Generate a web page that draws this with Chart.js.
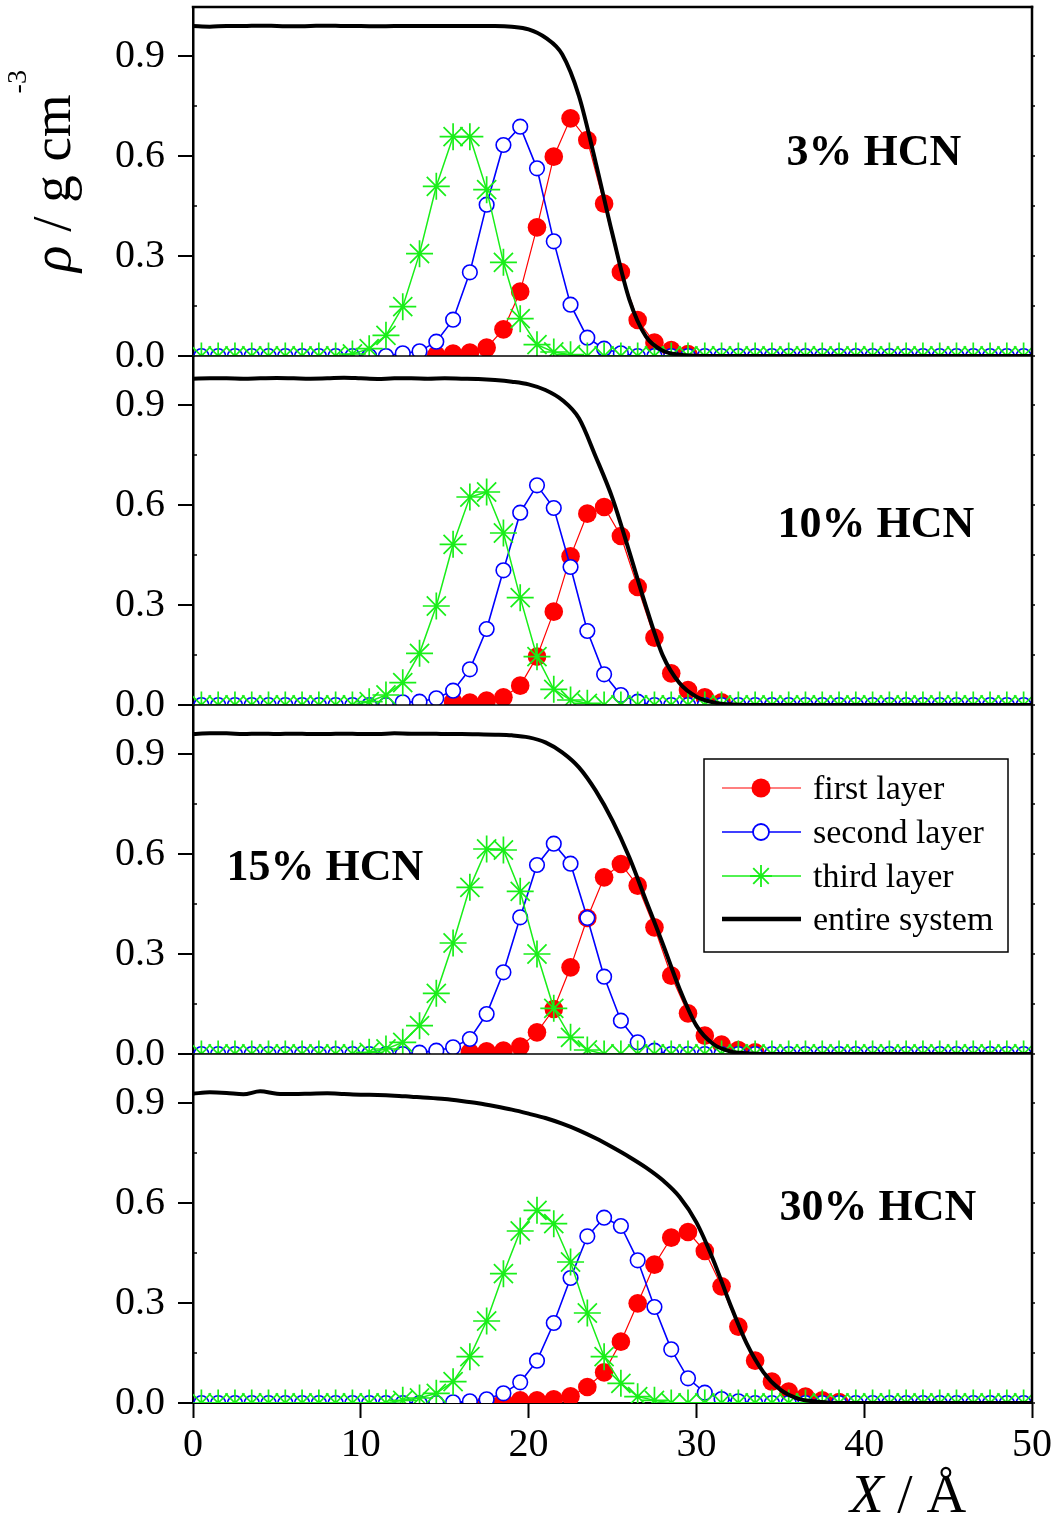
<!DOCTYPE html>
<html>
<head>
<meta charset="utf-8">
<script src="https://cdn.jsdelivr.net/npm/chart.js@4.4.1/dist/chart.umd.min.js"></script>
<style>
html,body{margin:0;padding:0;background:#fff;}
#wrap{position:relative;width:1059px;height:1524px;}
canvas{display:block;}
</style>
</head>
<body>
<div id="wrap"><canvas id="c" width="1059" height="1524"></canvas></div>
<script>
// ---------------- DATA ----------------
const _ = null;
// layer-profile sample positions (Å)
const X_PTS = [0.5,1.5,2.5,3.5,4.5,5.5,6.5,7.5,8.5,9.5,10.5,11.5,12.5,13.5,14.5,15.5,16.5,17.5,18.5,19.5,
  20.5,21.5,22.5,23.5,24.5,25.5,26.5,27.5,28.5,29.5,30.5,31.5,32.5,33.5,34.5,35.5,36.5,37.5,38.5,39.5,
  40.5,41.5,42.5,43.5,44.5,45.5,46.5,47.5,48.5,49.5];
// entire-system profile sample positions (Å)
const X_LINE = [0,1,2,3,4,5,6,7,8,9,10,11,12,13,14,15,16,17,18,19,20,21,22,23,24,25,26,27,28,29,
  30,31,32,33,34,35,36,37,38,39,40,41,42,43,44,45,46,47,48,49,50];
const X_TICKS = [0,10,20,30,40,50];
const Y_TICKS = [0,0.3,0.6,0.9];
const Y_MINOR = [0.15,0.45,0.75];
const PANEL_LABELS = ['3% HCN','10% HCN','15% HCN','30% HCN'];
const SERIES_NAMES = ['first layer','second layer','third layer','entire system'];

// ---- 3% HCN ----
const FIRST_3 = [_,_,_,_,_,_,_,_,_,_,_,_,_,_,
  0.003,0.007,0.01,0.025,0.08,0.193,0.386,0.598,0.713,0.648,0.457,0.252,0.108,0.04,0.018,0.006,
  _,_,_,_,_,_,_,_,_,_,_,_,_,_,_,_,_,_,_,_];
const SECOND_3 = [0,0,0,0,0,0,0,0,0,0,0,0,
  0.008,0.014,0.043,0.109,0.251,0.454,0.633,0.688,0.563,0.344,0.154,0.055,0.022,0.008,
  0,0,0,0,0,0,0,0,0,0,0,0,0,0,0,0,0,0,0,0,0,0,0,0];
const THIRD_3 = [0,0,0,0,0,0,0,0,0,
  0.006,0.022,0.062,0.148,0.307,0.509,0.658,0.658,0.499,0.281,0.112,0.034,0.012,0.004,
  0,0,0,0,0,0,0,0,0,0,0,0,0,0,0,0,0,0,0,0,0,0,0,0,0,0,0];
const TOTAL_3 = [0.99,0.988,0.99,0.99,0.991,0.99,0.989,0.99,0.991,0.99,
  0.99,0.989,0.99,0.99,0.99,0.99,0.99,0.99,0.99,0.988,
  0.98,0.955,0.905,0.78,0.58,0.365,0.17,0.058,0.016,0.004,
  0.001,0,0,0,0,0,0,0,0,0,
  0,0,0,0,0,0,0,0,0,0,0];

// ---- 10% HCN ----
const FIRST_10 = [_,_,_,_,_,_,_,_,_,_,_,_,_,_,_,
  0.01,0.007,0.013,0.023,0.058,0.145,0.28,0.446,0.574,0.594,0.507,0.354,0.202,0.095,0.045,0.023,0.008,
  _,_,_,_,_,_,_,_,_,_,_,_,_,_,_,_,_,_];
const SECOND_10 = [0,0,0,0,0,0,0,0,0,0,0,0,
  0.008,0.01,0.02,0.043,0.107,0.228,0.404,0.577,0.659,0.591,0.414,0.222,0.092,0.03,0.01,
  0,0,0,0,0,0,0,0,0,0,0,0,0,0,0,0,0,0,0,0,0,0,0];
const THIRD_10 = [0,0,0,0,0,0,0,0,0,0,
  0.01,0.03,0.067,0.155,0.297,0.482,0.624,0.639,0.516,0.322,0.145,0.047,0.015,0.005,
  0,0,0,0,0,0,0,0,0,0,0,0,0,0,0,0,0,0,0,0,0,0,0,0,0,0];
const TOTAL_10 = [0.979,0.98,0.98,0.979,0.98,0.981,0.98,0.979,0.98,0.982,
  0.98,0.978,0.98,0.98,0.979,0.98,0.979,0.978,0.975,0.97,
  0.962,0.945,0.915,0.86,0.745,0.62,0.46,0.295,0.148,0.065,
  0.025,0.008,0.002,0,0,0,0,0,0,0,
  0,0,0,0,0,0,0,0,0,0,0];

// ---- 15% HCN ----
const FIRST_15 = [_,_,_,_,_,_,_,_,_,_,_,_,_,_,_,_,
  0.005,0.008,0.01,0.022,0.065,0.135,0.26,0.408,0.53,0.57,0.505,0.38,0.235,0.122,0.055,0.028,0.012,0.005,
  _,_,_,_,_,_,_,_,_,_,_,_,_,_,_,_];
const SECOND_15 = [0,0,0,0,0,0,0,0,0,0,0,0,0,
  0.004,0.01,0.02,0.045,0.12,0.245,0.41,0.567,0.631,0.571,0.408,0.232,0.10,0.035,0.01,
  0,0,0,0,0,0,0,0,0,0,0,0,0,0,0,0,0,0,0,0,0,0];
const THIRD_15 = [0,0,0,0,0,0,0,0,0,0,
  0.005,0.015,0.035,0.085,0.182,0.333,0.50,0.615,0.612,0.488,0.30,0.137,0.05,0.012,
  0,0,0,0,0,0,0,0,0,0,0,0,0,0,0,0,0,0,0,0,0,0,0,0,0,0];
const TOTAL_15 = [0.96,0.962,0.962,0.96,0.961,0.96,0.961,0.96,0.96,0.961,
  0.96,0.96,0.962,0.961,0.961,0.96,0.96,0.959,0.958,0.956,
  0.95,0.935,0.905,0.86,0.79,0.70,0.59,0.46,0.33,0.195,
  0.085,0.03,0.008,0.002,0,0,0,0,0,0,
  0,0,0,0,0,0,0,0,0,0,0];

// ---- 30% HCN ----
const FIRST_30 = [_,_,_,_,_,_,_,_,_,_,_,_,_,_,_,_,_,
  0.002,0.004,0.008,0.008,0.011,0.02,0.048,0.092,0.184,0.299,0.415,0.496,0.513,0.456,0.35,0.229,0.127,0.064,0.034,0.019,0.008,0.003,
  _,_,_,_,_,_,_,_,_,_,_];
const SECOND_30 = [0,0,0,0,0,0,0,0,0,0,0,0,0,0,0,
  0.002,0.005,0.011,0.029,0.062,0.127,0.24,0.375,0.50,0.556,0.531,0.428,0.288,0.161,0.074,0.031,0.012,0.005,
  0,0,0,0,0,0,0,0,0,0,0,0,0,0,0,0,0];
const THIRD_30 = [0,0,0,0,0,0,0,0,0,0,0,0,
  0.008,0.015,0.029,0.064,0.139,0.246,0.388,0.516,0.578,0.538,0.423,0.27,0.139,0.059,0.019,0.008,
  0,0,0,0,0,0,0,0,0,0,0,0,0,0,0,0,0,0,0,0,0,0];
const TOTAL_30 = [0.928,0.932,0.93,0.926,0.935,0.928,0.927,0.928,0.929,0.927,
  0.925,0.924,0.922,0.919,0.916,0.912,0.906,0.899,0.89,0.88,
  0.868,0.855,0.838,0.818,0.794,0.767,0.738,0.706,0.668,0.618,
  0.542,0.43,0.298,0.178,0.092,0.04,0.014,0.005,0.001,0,
  0,0,0,0,0,0,0,0,0,0,0];

// ---------------- STYLE / LAYOUT ----------------
const FONT = "'Liberation Serif', 'Times New Roman', serif";
const RED = '#ff0000', BLUE = '#0000ff', GREEN = '#19ee19', BLACK = '#000000';
const Y_MAX = 1.047;
const LABEL_POS = [[874,165],[876,537],[325,880],[878,1220]];
const LEGEND_BOX = {x:704, y:759, w:304, h:193, rows:[788,832,876,919], lineX0:722, lineX1:801, markX:761, textX:813};

const panels = [
  {first:FIRST_3, second:SECOND_3, third:THIRD_3, total:TOTAL_3},
  {first:FIRST_10, second:SECOND_10, third:THIRD_10, total:TOTAL_10},
  {first:FIRST_15, second:SECOND_15, third:THIRD_15, total:TOTAL_15},
  {first:FIRST_30, second:SECOND_30, third:THIRD_30, total:TOTAL_30}
];
const toPts = (xs, ys) => xs.map((x, i) => ({x: x, y: ys[i]}));

const datasets = [];
panels.forEach((p, k) => {
  const yID = 'y' + k;
  datasets.push({label: SERIES_NAMES[3], data: toPts(X_LINE, p.total), yAxisID: yID,
    borderColor: BLACK, borderWidth: 4, pointRadius: 0, cubicInterpolationMode: 'monotone', fill: false, order: 0});
  datasets.push({label: SERIES_NAMES[2], data: toPts(X_PTS, p.third), yAxisID: yID,
    borderColor: GREEN, borderWidth: 1.5, pointStyle: 'star', pointRadius: 13.5,
    pointBorderColor: GREEN, pointBackgroundColor: GREEN, pointBorderWidth: 1.7, tension: 0, fill: false, order: 1});
  datasets.push({label: SERIES_NAMES[1], data: toPts(X_PTS, p.second), yAxisID: yID,
    borderColor: BLUE, borderWidth: 1.6, pointStyle: 'circle', pointRadius: 7.3,
    pointBorderColor: BLUE, pointBackgroundColor: '#ffffff', pointBorderWidth: 1.6, tension: 0, fill: false, order: 2});
  datasets.push({label: SERIES_NAMES[0], data: toPts(X_PTS, p.first), yAxisID: yID,
    borderColor: RED, borderWidth: 1.2, pointStyle: 'circle', pointRadius: 9.3,
    pointBorderColor: RED, pointBackgroundColor: RED, pointBorderWidth: 0, tension: 0, fill: false, order: 3});
});

function yAxis(k) {
  return {
    type: 'linear', position: 'left', stack: 'panels', stackWeight: 1, weight: 4 - k,
    min: 0, max: Y_MAX, offset: false,
    afterBuildTicks: s => { s.ticks = Y_TICKS.map(v => ({value: v})); },
    afterFit: s => { s.width = 193; s.paddingTop = 0; s.paddingBottom = 0; },
    ticks: {font: {family: FONT, size: 40}, color: '#000', padding: 0, autoSkip: false,
      callback: v => Number(v).toFixed(1)},
    // tick marks themselves are drawn by the decor plugin (15px); the grid tick space sets label offset
    grid: {drawOnChartArea: false, drawTicks: true, tickLength: 28, tickWidth: 2, tickColor: 'rgba(0,0,0,0)', color: '#000'},
    border: {display: true, width: 2.5, color: '#000'}
  };
}

const panelClip = {
  id: 'panelClip',
  beforeDatasetDraw(chart, args) {
    const ys = args.meta.yScale, ca = chart.chartArea, ctx = chart.ctx;
    ctx.save();
    ctx.beginPath();
    ctx.rect(ca.left, ys.top, ca.right - ca.left, ys.bottom - ys.top);
    ctx.clip();
  },
  afterDatasetDraw(chart) { chart.ctx.restore(); }
};

function line(ctx, x0, y0, x1, y1) { ctx.beginPath(); ctx.moveTo(x0, y0); ctx.lineTo(x1, y1); ctx.stroke(); }
function star(ctx, x, y, r) {
  for (let a = 0; a < 4; a++) {
    const t = a * Math.PI / 4;
    line(ctx, x - r * Math.cos(t), y - r * Math.sin(t), x + r * Math.cos(t), y + r * Math.sin(t));
  }
}

const decor = {
  id: 'decor',
  afterDraw(chart) {
    const ctx = chart.ctx, ca = chart.chartArea;
    const ys = [0,1,2,3].map(k => chart.scales['y' + k]);
    ctx.save();
    ctx.strokeStyle = '#000';
    ctx.lineCap = 'butt';
    // frame
    ctx.lineWidth = 2.5;
    line(ctx, ca.right, ca.top - 1.25, ca.right, ca.bottom + 1);
    line(ctx, ca.left - 1.25, ca.top, ca.right + 1.25, ca.top);
    ctx.lineWidth = 1.5;
    for (let k = 0; k < 3; k++) line(ctx, ca.left, ys[k].bottom, ca.right, ys[k].bottom);
    // major y ticks (outward) and minor ticks
    ys.forEach(s => {
      ctx.lineWidth = 2;
      Y_TICKS.forEach(v => { const y = s.getPixelForValue(v); line(ctx, ca.left - 15, y, ca.left, y); });
      ctx.lineWidth = 1.5;
      Y_MINOR.forEach(v => { const y = s.getPixelForValue(v); line(ctx, ca.left, y, ca.left + 4, y); });
      Y_TICKS.concat(Y_MINOR).forEach(v => { const y = s.getPixelForValue(v); line(ctx, ca.right, y, ca.right + 3, y); });
    });
    // panel labels
    ctx.fillStyle = '#000';
    ctx.textAlign = 'center';
    ctx.textBaseline = 'alphabetic';
    ctx.font = 'bold 44px ' + FONT;
    PANEL_LABELS.forEach((t, k) => ctx.fillText(t, LABEL_POS[k][0], LABEL_POS[k][1]));
    // legend
    const L = LEGEND_BOX;
    ctx.fillStyle = '#fff';
    ctx.fillRect(L.x, L.y, L.w, L.h);
    ctx.lineWidth = 1.5; ctx.strokeStyle = '#000';
    ctx.strokeRect(L.x, L.y, L.w, L.h);
    const colors = [RED, BLUE, GREEN, BLACK];
    L.rows.forEach((ry, i) => {
      ctx.strokeStyle = colors[i];
      ctx.lineWidth = i === 3 ? 4.5 : (i === 0 ? 1.2 : 1.6);
      line(ctx, L.lineX0, ry, L.lineX1, ry);
      if (i === 0) { ctx.fillStyle = RED; ctx.beginPath(); ctx.arc(L.markX, ry, 9.5, 0, Math.PI * 2); ctx.fill(); }
      if (i === 1) { ctx.fillStyle = '#fff'; ctx.lineWidth = 1.8; ctx.beginPath(); ctx.arc(L.markX, ry, 8, 0, Math.PI * 2); ctx.fill(); ctx.stroke(); }
      if (i === 2) { ctx.lineWidth = 1.8; star(ctx, L.markX, ry, 11); }
      ctx.fillStyle = '#000';
      ctx.textAlign = 'left';
      ctx.font = '34px ' + FONT;
      ctx.fillText(SERIES_NAMES[i], L.textX, ry + 11);
    });
    // y title
    ctx.save();
    ctx.translate(70, 272);
    ctx.rotate(-Math.PI / 2);
    ctx.textAlign = 'left'; ctx.textBaseline = 'alphabetic'; ctx.fillStyle = '#000';
    ctx.font = 'italic 55px ' + FONT;
    ctx.fillText('\u03C1', 0, 0);
    let w = ctx.measureText('\u03C1').width;
    ctx.font = '55px ' + FONT;
    ctx.fillText(' / g cm', w, 0);
    w += ctx.measureText(' / g cm').width;
    ctx.font = '28px ' + FONT;
    ctx.fillText('-3', w + 1, -44);
    ctx.restore();
    // x title
    ctx.textAlign = 'left'; ctx.textBaseline = 'alphabetic';
    ctx.font = 'italic 55px ' + FONT;
    ctx.fillText('X', 850, 1512);
    const wx = ctx.measureText('X').width;
    ctx.font = '55px ' + FONT;
    ctx.fillText(' / \u00C5', 850 + wx, 1512);
    ctx.restore();
  }
};

const scales = {
  x: {
    type: 'linear', position: 'bottom', min: 0, max: 50, offset: false,
    afterBuildTicks: s => { s.ticks = X_TICKS.map(v => ({value: v})); },
    afterFit: s => { s.height = 121; s.paddingLeft = 0; s.paddingRight = 0; },
    ticks: {font: {family: FONT, size: 40}, color: '#000', padding: 3, autoSkip: false, maxRotation: 0,
      callback: v => String(v)},
    grid: {drawOnChartArea: false, drawTicks: true, tickLength: 15, tickWidth: 2, color: '#000'},
    border: {display: true, width: 2, color: '#000'}
  }
};
for (let k = 0; k < 4; k++) scales['y' + k] = yAxis(k);

new Chart(document.getElementById('c'), {
  type: 'line',
  data: {datasets: datasets},
  options: {
    responsive: false, animation: false, devicePixelRatio: 1, events: [],
    parsing: true,
    layout: {autoPadding: false, padding: {left: 0, right: 27, top: 7, bottom: 0}},
    scales: scales,
    plugins: {legend: {display: false}, tooltip: {enabled: false}, title: {display: false}}
  },
  plugins: [panelClip, decor]
});
</script>
</body>
</html>
